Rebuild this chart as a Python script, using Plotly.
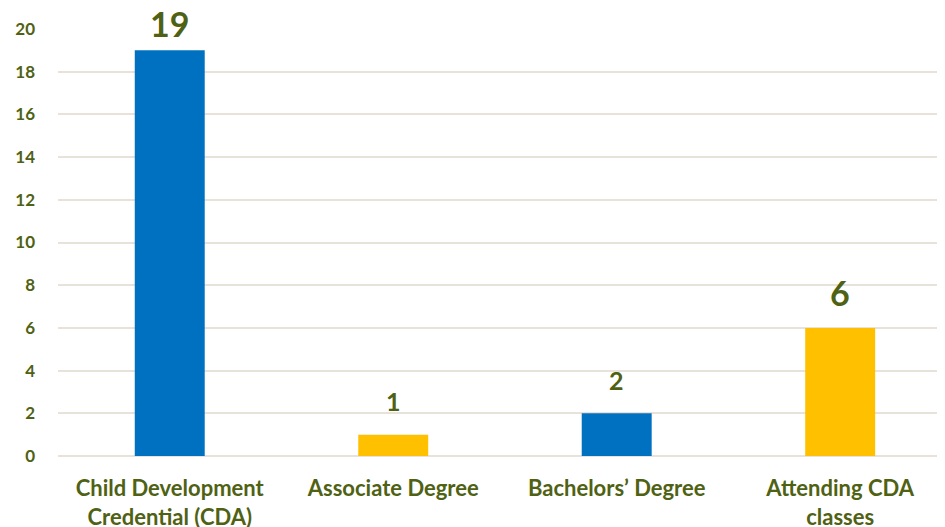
import plotly.graph_objects as go

categories = ["Child Development<br>Credential (CDA)", "Associate Degree", "Bachelors’ Degree", "Attending CDA<br>classes"]
values = [19, 1, 2, 6]
bar_colors = ["#0070C0", "#FFC000", "#0070C0", "#FFC000"]
label_sizes = [34, 25, 25, 34]
label_shifts = [5, 18, 17, 14]
tick_vals = [0, 2, 4, 6, 8, 10, 12, 14, 16, 18, 20]

TEXT = "#4F6113"
FONT = "Lato, 'Open Sans', sans-serif"

fig = go.Figure()
fig.add_trace(go.Bar(
    x=categories, y=values,
    marker=dict(color=bar_colors, line=dict(width=0)),
    width=0.313,
    hoverinfo="x+y",
))

for c, v, s, sh in zip(categories, values, label_sizes, label_shifts):
    fig.add_annotation(
        x=c, y=v, text=f"<b>{v}</b>", showarrow=False,
        yanchor="bottom", yshift=sh, borderpad=0,
        font=dict(family=FONT, size=s, color=TEXT),
    )

fig.update_layout(
    width=937, height=519,
    margin=dict(l=50, r=0, t=21, b=71, autoexpand=False),
    paper_bgcolor="white", plot_bgcolor="white",
    showlegend=False,
    font=dict(family=FONT, color=TEXT),
    xaxis=dict(
        range=[-0.5, 3.469],
        showgrid=False, showline=False, zeroline=False, automargin=False,
        tickfont=dict(family=FONT, size=22, color=TEXT, weight="bold"),
        ticks="", ticklabelstandoff=17,
    ),
    yaxis=dict(
        range=[0, 20], tickvals=tick_vals, automargin=False,
        showgrid=True, gridcolor="#E8E2DA", gridwidth=2,
        zeroline=True, zerolinecolor="#E8E2DA", zerolinewidth=2,
        showline=False, ticks="",
        tickfont=dict(family=FONT, size=17, color=TEXT, weight="bold"),
        ticklabelstandoff=22,
    ),
)

fig.write_html("out.html")
